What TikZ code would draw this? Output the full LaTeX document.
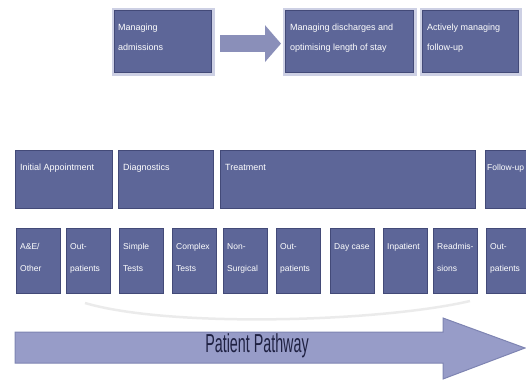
\documentclass[tikz,border=0pt]{standalone}
\usepackage{fontspec}
\setmainfont{Liberation Sans}
\newfontfamily\pathfont[FakeStretch=0.55]{Liberation Sans}
\usetikzlibrary{arrows.meta,calc}

\definecolor{boxfill}{HTML}{5D6698}
\definecolor{boxedge}{HTML}{434A78}
\definecolor{boxhalo}{HTML}{CDD0E4}
\definecolor{arrowfill}{HTML}{979CC8}
\definecolor{arrowedge}{HTML}{7E84B2}
\definecolor{smallarrow}{HTML}{8A8FB9}
\definecolor{pathtext}{HTML}{1F2142}

\begin{document}
\begin{tikzpicture}[x=1pt,y=-1pt,
  stage/.style={draw=boxedge,fill=boxfill,line width=1.2pt,inner sep=0pt,anchor=north west},
  halo/.style={stage,preaction={draw=boxhalo,line width=6pt}},
  boxtext/.style={text=white,anchor=north west,inner sep=0pt,align=left,font=\fontsize{9}{20}\selectfont}]
  \useasboundingbox (0,0) rectangle (526,386);
  % ---------------- top row ----------------
  \node[halo,minimum width=97pt,minimum height=62pt] (adm) at (114,10) {};
  \node[halo,minimum width=128pt,minimum height=62pt] (disch) at (285,10) {};
  \node[halo,minimum width=96pt,minimum height=62pt] (fup) at (422,10) {};
  \node[boxtext] (admt) at ($(adm.north west)+(4,14)$) {Managing\\admissions};
  \node[boxtext] (discht) at ($(disch.north west)+(5,14)$) {Managing discharges and\\optimising length of stay};
  \node[boxtext] (fupt) at ($(fup.north west)+(5,14)$) {Actively managing\\follow-up};
  \draw[smallarrow,line width=17pt,-{Triangle[width=36pt,length=16pt]}]
    ($(adm.east)+(8,2)$) -- ($(disch.west)+(-4,2)$);
  % ---------------- stages ----------------
  \foreach \x/\w/\name/\txt in {15/97/init/Initial Appointment,118/95/diag/Diagnostics,
      220/255/treat/Treatment}{
    \node[stage,minimum width=\w pt,minimum height=58pt] (\name) at (\x,150) {};
    \node[boxtext] (\name t) at ($(\name.north west)+(5,14)$) {\txt};
  }
  \node[stage,minimum width=60pt,minimum height=58pt] (follow) at (485,150) {};
  \node[boxtext,font=\fontsize{8.5}{20}\selectfont] (follow t) at ($(follow.north west)+(2,14)$) {Follow-up};
  % ---------------- settings ----------------
  \foreach \x/\txt [count=\i] in {16/{A\&E/\\Other},66/{Out-\\patients},119/{Simple\\Tests},
      172/{Complex\\Tests},223/{Non-\\Surgical},276/{Out-\\patients},330/{Day case},
      383/{Inpatient},433/{Readmis-\\sions},486/{Out-\\patients}}{
    \node[stage,minimum width=44pt,minimum height=65pt] (set\i) at (\x,228) {};
    \node[boxtext,font=\fontsize{8.5}{22}\selectfont] (set\i t) at ($(set\i.north west)+(4,15)$) {\txt};
  }
  % ---------------- pathway ----------------
  \draw[black!8,line width=2.5pt] (85,303) .. controls (170,328) and (380,322) .. (470,301);
  \filldraw[fill=arrowfill,draw=arrowedge,line width=1pt]
    (15,332) -- (443,332) -- (443,318) -- (525,348) -- (443,379) -- (443,363) -- (15,363) -- cycle;
  \node[font=\pathfont\fontsize{26}{26}\selectfont,text=pathtext] (pathway) at (257,346) {Patient Pathway};
\end{tikzpicture}
\end{document}
